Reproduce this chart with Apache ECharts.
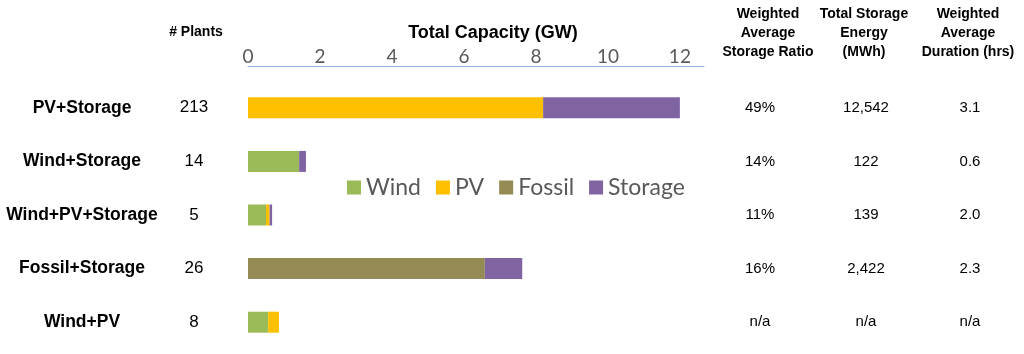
<!DOCTYPE html>
<html>
<head>
<meta charset="utf-8">
<script src="https://cdn.jsdelivr.net/npm/echarts@6/dist/echarts.min.js"></script>
<style>
  html, body { margin: 0; padding: 0; background: #fff; }
  #chart { width: 1024px; height: 354px; }
</style>
</head>
<body>
<div id="chart"></div>
<script>
// data
var categories = ["PV+Storage", "Wind+Storage", "Wind+PV+Storage", "Fossil+Storage", "Wind+PV"];
var plants = ["213", "14", "5", "26", "8"];
var wind = [0, 1.42, 0.5, 0, 0.56];
var pv = [8.2, 0, 0.1, 0, 0.3];
var fossil = [0, 0, 0, 6.58, 0];
var storage = [3.8, 0.19, 0.07, 1.04, 0];
var storageRatio = ["49%", "14%", "11%", "16%", "n/a"];
var storageEnergy = ["12,542", "122", "139", "2,422", "n/a"];
var duration = ["3.1", "0.6", "2.0", "2.3", "n/a"];

var chart = echarts.init(document.getElementById("chart"));

// extra category axes used as table columns
function columnAxis(position, margin, values, size, bold) {
    return {
        type: "category",
        position: position,
        inverse: true,
        data: categories,
        axisLine: { show: false },
        axisTick: { show: false },
        axisLabel: {
            margin: margin,
            align: "center",
            color: "#000",
            fontFamily: "Liberation Sans, Arial",
            fontSize: size,
            fontWeight: bold ? "bold" : "normal",
            formatter: function (v, i) { return values[i]; }
        }
    };
}

function bar(name, color, data) {
    return {
        name: name,
        type: "bar",
        stack: "cap",
        barWidth: 21,
        xAxisIndex: 0,
        yAxisIndex: 0,
        itemStyle: { color: color },
        data: data
    };
}

var headerFont = "bold 14px 'Liberation Sans', Arial";

var option = {
    animation: false,
    grid: { left: 248, right: 320, top: 81, bottom: 5 },
    legend: {
        left: 342,
        top: 171,
        itemWidth: 14,
        itemHeight: 14,
        itemGap: 15,
        icon: "rect",
        textStyle: { fontFamily: "Lato", fontSize: 23, color: "#595959" },
        data: ["Wind", "PV", "Fossil", "Storage"]
    },
    xAxis: {
        type: "value",
        position: "top",
        offset: 15,
        min: 0,
        max: 12.67,
        interval: 2,
        splitLine: { show: false },
        axisTick: { show: false },
        axisLine: { show: true, lineStyle: { color: "#8eb4e3", width: 1 } },
        axisLabel: {
            margin: 0,
            showMaxLabel: false,
            color: "#595959",
            fontFamily: "Lato",
            fontSize: 19
        }
    },
    yAxis: [
        columnAxis("left", 166, categories, 17.5, true),
        columnAxis("left", 54, plants, 17, false),
        columnAxis("right", 56, storageRatio, 15, false),
        columnAxis("right", 162, storageEnergy, 15, false),
        columnAxis("right", 266, duration, 15, false)
    ],
    graphic: [
        { type: "text", x: 196, y: 32, style: { text: "# Plants", font: "bold 14px 'Liberation Sans', Arial", fill: "#000", align: "center", verticalAlign: "middle" } },
        { type: "text", x: 493, y: 33, style: { text: "Total Capacity (GW)", font: "bold 18px 'Liberation Sans', Arial", fill: "#000", align: "center", verticalAlign: "middle" } },
        { type: "text", x: 768, y: 33, style: { text: "Weighted\nAverage\nStorage Ratio", font: headerFont, lineHeight: 19, fill: "#000", align: "center", verticalAlign: "middle" } },
        { type: "text", x: 864, y: 33, style: { text: "Total Storage\nEnergy\n(MWh)", font: headerFont, lineHeight: 19, fill: "#000", align: "center", verticalAlign: "middle" } },
        { type: "text", x: 968, y: 33, style: { text: "Weighted\nAverage\nDuration (hrs)", font: headerFont, lineHeight: 19, fill: "#000", align: "center", verticalAlign: "middle" } }
    ],
    series: [
        bar("Wind", "#9bbb59", wind),
        bar("PV", "#ffc000", pv),
        bar("Fossil", "#948a54", fossil),
        bar("Storage", "#8064a2", storage)
    ]
};

chart.setOption(option);
</script>
</body>
</html>
